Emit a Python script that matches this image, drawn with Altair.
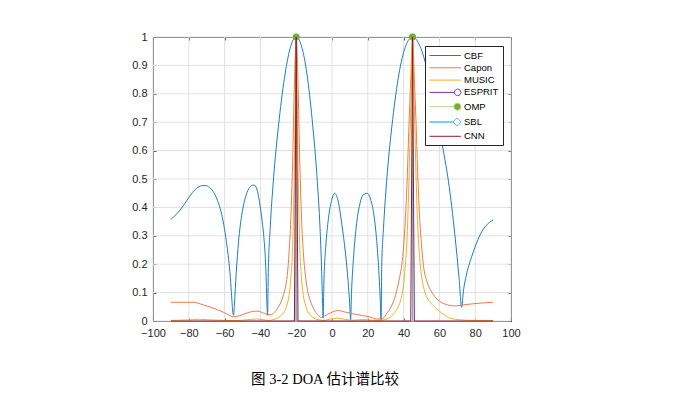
import altair as alt
import pandas as pd

# ---------------- data ----------------
cbf_deg = [-90, -87, -84, -81, -78, -75, -72, -70, -68, -66, -64, -62, -60.5, -59, -58, -57, -56.2, -55.4, -55,
           -54.5, -53.5, -52.2, -50.5, -49, -47, -45, -43.6, -42, -40.5, -39, -38, -37, -36.3, -36,
           -35.6, -34.5, -32.8, -29.5, -26.2, -23.1, -20, -17, -14, -11.1, -8.2, -6.7, -5.9, -5.2, -5,
           -4.5, -3.5, -2, 0, 1.5, 3.5, 5.5, 7.5, 9, 9.9, 10.4,
           10.9, 12, 13.5, 15.5, 17.5, 19.5, 21.5, 23.5, 25, 26.3, 27, 27.4,
           27.8, 28.8, 30.5, 33.9, 37.4, 41.1, 45, 49.2, 53.8, 59, 62.2, 65.1, 68.7, 71, 72.4,
           73.5, 75, 78, 80.5, 82.7, 86.4, 90]
cbf_val = [0.358, 0.375, 0.398, 0.425, 0.452, 0.470, 0.477, 0.476, 0.468, 0.452, 0.425, 0.385, 0.34, 0.28, 0.23, 0.17, 0.10, 0.03, 0.02,
           0.06, 0.17, 0.28, 0.37, 0.42, 0.46, 0.476, 0.479, 0.465, 0.42, 0.35, 0.29, 0.19, 0.05, 0.02,
           0.17, 0.33, 0.49, 0.71, 0.87, 0.967, 1.0, 0.967, 0.87, 0.71, 0.49, 0.33, 0.2, 0.05, 0.01,
           0.14, 0.26, 0.36, 0.43, 0.45, 0.42, 0.34, 0.24, 0.14, 0.06, 0.005,
           0.1, 0.22, 0.33, 0.41, 0.445, 0.45, 0.43, 0.37, 0.28, 0.16, 0.07, 0.003,
           0.2, 0.33, 0.49, 0.71, 0.87, 0.967, 1.0, 0.967, 0.87, 0.71, 0.60, 0.49, 0.30, 0.15, 0.048,
           0.11, 0.16, 0.226, 0.27, 0.303, 0.338, 0.356]

capon_deg = [-90, -84, -78, -75, -72, -68, -64, -60, -57, -55, -52, -48, -44, -42, -39, -36, -34, -32, -30, -28,
             -27, -26, -25, -24, -23, -22, -21, -20, -19, -18, -17, -16, -15, -14, -12, -10, -8, -6, -4, -1,
             3.5, 7, 12, 17, 21, 25, 28, 31, 33, 35, 37, 39, 40, 41, 42, 43, 44, 45, 46, 47, 48, 49, 50, 51,
             53, 55, 58, 63, 69, 75, 81, 90]
capon_val = [0.066, 0.066, 0.066, 0.063, 0.057, 0.049, 0.040, 0.029, 0.019, 0.015, 0.018, 0.027, 0.034, 0.035, 0.030, 0.023, 0.022, 0.032, 0.048, 0.075,
             0.094, 0.12, 0.16, 0.24, 0.36, 0.56, 0.835, 1.0, 0.835, 0.56, 0.36, 0.24, 0.168, 0.12, 0.07, 0.04, 0.022, 0.012, 0.018, 0.028,
             0.037, 0.032, 0.025, 0.019, 0.015, 0.007, 0.008, 0.03, 0.05, 0.08, 0.13, 0.2, 0.26, 0.36, 0.5, 0.69, 0.85, 1.0, 0.85, 0.69, 0.5, 0.36, 0.27, 0.2,
             0.14, 0.11, 0.082, 0.06, 0.053, 0.058, 0.062, 0.066]

music_deg = [-90, -80, -74, -68, -60, -55, -48, -42, -38, -35, -33, -30, -28, -26, -25, -24, -23, -22, -21, -20,
             -19, -18, -17, -16, -15, -14, -12, -10, -7, -5, 0, 3, 7, 12, 17, 22, 27, 30, 33, 35, 37, 39, 40,
             41, 42, 43, 44, 45, 46, 47, 48, 49, 50, 52, 55, 58, 62, 66, 72, 80, 90]
music_val = [0.002, 0.004, 0.006, 0.004, 0.002, 0.001, 0.004, 0.007, 0.004, 0.002, 0.005, 0.012, 0.022, 0.04, 0.06, 0.09, 0.15, 0.26, 0.55, 1.0,
             0.55, 0.26, 0.15, 0.09, 0.06, 0.04, 0.02, 0.01, 0.004, 0.002, 0.008, 0.01, 0.006, 0.003, 0.005, 0.003, 0.002, 0.006, 0.015, 0.03, 0.05, 0.09, 0.13,
             0.2, 0.3, 0.5, 0.75, 1.0, 0.75, 0.5, 0.32, 0.22, 0.16, 0.1, 0.065, 0.045, 0.025, 0.01, 0.004, 0.002, 0.002]

cnn_deg = [-90, -21, -20, -19, 44, 45, 46, 90]
cnn_val = [0, 0, 1, 0, 0, 1, 0, 0]

peak_deg = [-20, 45]
esprit_val = [1, 1]
omp_val = [1, 1]
sbl_val = [1, 1]

series_names = ["CBF", "Capon", "MUSIC", "ESPRIT", "OMP", "SBL", "CNN"]
series_colors = ["#1A7DC4", "#EC7A4A", "#EDB120", "#7E2F8E", "#B8D58C", "#4DBEEE", "#A2142F"]
legend_fills = ["transparent", "transparent", "transparent", "transparent", "#77AC30", "transparent", "transparent"]
# legend icons (units of sqrt(symbolSize)/2 px): line, stem line ending in its marker
legend_shapes = [
    "M-1,0L5.28,0",
    "M-1,0L5.28,0",
    "M-1,0L5.28,0",
    "M-1,0L3.98,0M5.28,0A0.65,0.65,0,1,1,3.98,0A0.65,0.65,0,1,1,5.28,0Z",
    "M-1,0L3.88,0M5.28,0A0.7,0.7,0,1,1,3.88,0A0.7,0.7,0,1,1,5.28,0Z",
    "M-1,0L3.68,0L4.48,-0.8L5.28,0L4.48,0.8L3.68,0Z",
    "M-1,0L5.28,0",
]

x_ticks = [-100, -80, -60, -40, -20, 0, 20, 40, 60, 80, 100]
y_ticks = [0, 0.1, 0.2, 0.3, 0.4, 0.5, 0.6, 0.7, 0.8, 0.9, 1]

# ---------------- styling ----------------
AXIS_FONT = "Liberation Sans"
TXT = "#262626"
GRID = "#E1E1E1"
xscale = alt.Scale(domain=[-100, 100], nice=False, zero=False)
yscale = alt.Scale(domain=[0, 1], nice=False, zero=False)

common_axis = dict(domain=False, grid=False, tickSize=3, offset=-3, tickColor=TXT,
                   tickWidth=0.8, title=None)

axis_bottom = alt.Axis(orient="bottom", values=x_ticks, labelFont=AXIS_FONT, labelFontSize=11,
                       labelColor=TXT, labelPadding=6, labelFlush=False, labelOverlap=False, format="d",
                       **common_axis)
axis_left = alt.Axis(orient="left", values=y_ticks, labelFont=AXIS_FONT, labelFontSize=11,
                     labelColor=TXT, labelPadding=6, labelFlush=False, labelOverlap=False,
                     labelExpr="format(datum.value, '~g')", **common_axis)
axis_top = alt.Axis(orient="top", values=x_ticks, labels=False, **common_axis)
axis_right = alt.Axis(orient="right", values=y_ticks, labels=False, **common_axis)

grid_x = alt.Chart(pd.DataFrame({"t": x_ticks})).mark_rule(color=GRID, strokeWidth=1).encode(
    x=alt.X("t:Q", scale=xscale, axis=axis_bottom))
grid_y = alt.Chart(pd.DataFrame({"t": y_ticks})).mark_rule(color=GRID, strokeWidth=1).encode(
    y=alt.Y("t:Q", scale=yscale, axis=axis_left))


def spectrum(deg, val, color, xaxis=None, yaxis=None, interp="monotone"):
    df = pd.DataFrame({"deg": deg, "val": val})
    return alt.Chart(df).mark_line(color=color, strokeWidth=1, interpolate=interp).encode(
        x=alt.X("deg:Q", scale=xscale, axis=xaxis),
        y=alt.Y("val:Q", scale=yscale, axis=yaxis),
        order="deg:Q",
    )


cbf = spectrum(cbf_deg, cbf_val, series_colors[0], axis_top, axis_right)
capon = spectrum(capon_deg, capon_val, series_colors[1])
music = spectrum(music_deg, music_val, series_colors[2])
cnn = spectrum(cnn_deg, cnn_val, series_colors[6], interp="linear")


def stems(vals, color):
    df = pd.DataFrame({"deg": peak_deg, "val": vals})
    return alt.Chart(df).mark_rule(color=color, strokeWidth=1).encode(
        x=alt.X("deg:Q", scale=xscale, axis=None),
        y=alt.Y("val:Q", scale=yscale, axis=None),
        y2=alt.datum(0),
    )


def markers(vals, shape, color, filled, size):
    df = pd.DataFrame({"deg": peak_deg, "val": vals})
    return alt.Chart(df).mark_point(shape=shape, color=color, filled=filled, size=size,
                                    opacity=1, strokeWidth=1).encode(
        x=alt.X("deg:Q", scale=xscale, axis=None),
        y=alt.Y("val:Q", scale=yscale, axis=None),
    )


esprit_s = stems(esprit_val, series_colors[3])
omp_s = stems(omp_val, series_colors[4])
sbl_s = stems(sbl_val, series_colors[5])
esprit_m = markers(esprit_val, "circle", series_colors[3], False, 28)
sbl_m = markers(sbl_val, "diamond", series_colors[5], False, 26)
omp_m = markers(omp_val, "circle", "#77AC30", True, 48)

legend_def = alt.Legend(
    title=None, orient="none", legendX=272, legendY=9,
    strokeColor="#262626", fillColor="white", padding=4, cornerRadius=0,
    symbolSize=100, symbolStrokeWidth=1, labelFont=AXIS_FONT, labelFontSize=9.5,
    labelColor="black", labelOffset=24, rowPadding=2.3,
)
legend_layer = alt.Chart(pd.DataFrame({"series": series_names})).transform_filter("false").mark_point(
    opacity=1, strokeWidth=1, filled=True).encode(
    stroke=alt.Stroke("series:N", scale=alt.Scale(domain=series_names, range=series_colors), legend=legend_def),
    fill=alt.Fill("series:N", scale=alt.Scale(domain=series_names, range=legend_fills), legend=legend_def),
    shape=alt.Shape("series:N", scale=alt.Scale(domain=series_names, range=legend_shapes), legend=legend_def),
)

chart = alt.layer(
    grid_x, grid_y, cbf, capon, music,
    esprit_s, esprit_m, omp_s, sbl_s, sbl_m, omp_m, cnn,
    legend_layer,
).resolve_axis(x="independent", y="independent").properties(
    width=358, height=284,
    padding={"left": 145, "top": 29, "right": 170, "bottom": 70},
    autosize=alt.AutoSizeParams(type="none"),
    title=alt.TitleParams(
        text="图 3-2 DOA 估计谱比较", orient="bottom", anchor="middle",
        font="Liberation Serif, Noto Sans CJK SC, serif", fontSize=14.5, fontWeight="normal",
        color="black", offset=35, dx=-7,
    ),
).configure_view(stroke="#4D4D4D", strokeWidth=1)

chart.save("out.html", embed_options={"renderer": "svg", "actions": False})
